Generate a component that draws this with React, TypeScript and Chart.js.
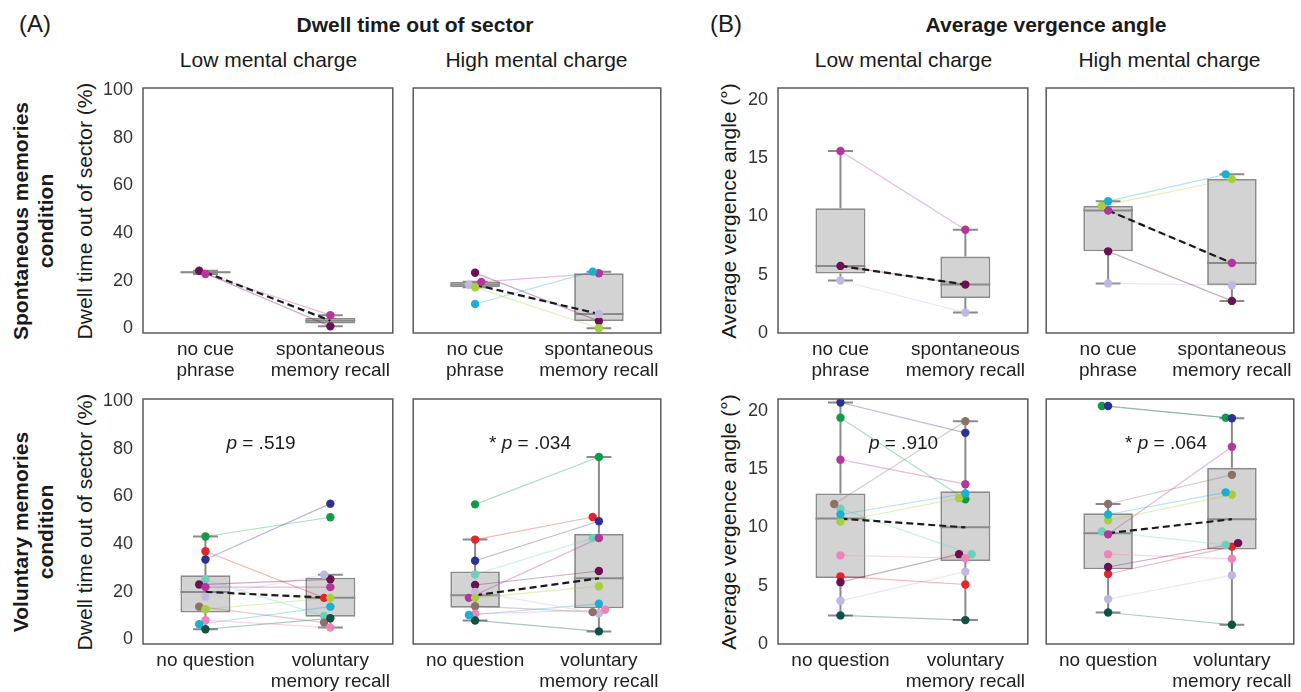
import React, { useEffect, useRef } from "react";
import { Chart, registerables } from "chart.js";

Chart.register(...registerables);

const FONT = "'Liberation Sans', Arial, Helvetica, sans-serif";
Chart.defaults.font.family = FONT;

// ---------------- data ----------------
// participant order: green, red, navy, teal, maroon, magenta, lavender, brown, yellow-green, pink, cyan, dark green
const participantColors = [
  "#12994a", "#e3262b", "#2e3192", "#6fcfba", "#6b1050", "#b3369d",
  "#c2b8df", "#8d7067", "#a8cf3b", "#f084ba", "#1bb0cf", "#0e5244",
];

const dwellTicks = [0, 20, 40, 60, 80, 100];
const vergenceTicks = [0, 5, 10, 15, 20];
const dwellRange = [-2, 101];
const vergenceRange = [0, 21];

const spontaneousCategories = [["no cue", "phrase"], ["spontaneous", "memory recall"]];
const voluntaryCategories = ["no question", ["voluntary", "memory recall"]];

const N = null;

// box stats: [whisker low, q1, median, q3, whisker high]
// (A) Dwell time out of sector (%) — spontaneous, low mental charge
const dwellSpontLowCue = [N, N, N, N, 24.2, 22.8, N, N, N, N, N, N];
const dwellSpontLowRecall = [N, N, N, N, 0.8, 5.5, N, N, N, N, N, N];
const dwellSpontLowBoxCue = [22.8, 23.15, 23.5, 23.85, 24.2];
const dwellSpontLowBoxRecall = [0.8, 1.98, 3.15, 4.33, 5.5];

// (A) spontaneous, high mental charge
const dwellSpontHighCue = [N, N, N, N, 23.3, 19.5, 18.3, N, 17.2, N, 10.2, N];
const dwellSpontHighRecall = [N, N, N, N, 3.0, 23.1, 6.0, N, 0.0, N, 23.8, N];
const dwellSpontHighBoxCue = [17.2, 17.2, 18.3, 19.5, 19.5];
const dwellSpontHighBoxRecall = [0.0, 3.0, 6.0, 23.1, 23.8];

// (A) voluntary, low mental charge
const dwellVolLowNoQ = [43.2, 37.0, 33.5, 25.1, 23.0, 21.9, 17.9, 13.7, 12.6, 8.0, 6.3, 4.2];
const dwellVolLowRecall = [51.3, 17.4, 57.0, 9.8, 25.2, 21.9, 27.1, 7.0, 17.4, 4.9, 13.7, 8.8];
const dwellVolLowBoxNoQ = [4.2, 11.2, 19.9, 26.9, 43.2];
const dwellVolLowBoxRecall = [4.9, 9.5, 17.4, 25.9, 27.1];

// (A) voluntary, high mental charge
const dwellVolHighNoQ = [56.7, 41.9, 33.0, 27.2, 22.8, 17.4, 19.9, 13.9, 17.4, 10.7, 10.2, 7.9];
const dwellVolHighRecall = [76.6, 51.4, 49.6, 42.5, 28.7, 42.5, 10.9, 11.4, 22.3, 12.4, 14.9, 3.3];
const dwellVolHighBoxNoQ = [7.9, 13.2, 18.5, 28.5, 41.9];
const dwellVolHighBoxRecall = [3.3, 13.0, 25.6, 44.3, 76.6];

// (B) Average vergence angle (°) — spontaneous, low mental charge
const vergSpontLowCue = [N, N, N, N, 5.75, 15.6, 4.5, N, N, N, N, N];
const vergSpontLowRecall = [N, N, N, N, 4.15, 8.85, 1.75, N, N, N, N, N];
const vergSpontLowBoxCue = [4.5, 5.1, 5.75, 10.7, 15.6];
const vergSpontLowBoxRecall = [1.75, 3.0, 4.15, 6.55, 8.85];

// (B) spontaneous, high mental charge
const vergSpontHighCue = [N, N, N, N, 7.0, 10.5, 4.25, N, 10.9, N, 11.3, N];
const vergSpontHighRecall = [N, N, N, N, 2.75, 6.0, 4.1, N, 13.2, N, 13.6, N];
const vergSpontHighBoxCue = [4.25, 7.0, 10.5, 10.9, 11.3];
const vergSpontHighBoxRecall = [2.75, 4.1, 6.0, 13.2, 13.6];

// (B) voluntary, low mental charge
const vergVolLowNoQ = [19.4, 5.8, 20.7, 11.6, 5.3, 15.8, 3.7, 12.0, 10.5, 7.6, 11.1, 2.45];
const vergVolLowRecall = [12.4, 5.1, 18.1, 7.7, 7.7, 13.7, 6.2, 19.1, 12.5, 7.35, 12.9, 2.05];
const vergVolLowBoxNoQ = [2.45, 5.65, 10.75, 12.9, 20.7];
const vergVolLowBoxRecall = [2.05, 7.1, 10.0, 13.1, 19.1];

// (B) voluntary, high mental charge
const vergVolHighNoQ = [20.4, 6.0, 20.4, 9.65, 6.6, 9.4, 3.85, 12.0, 10.6, 7.7, 11.1, 2.7];
const vergVolHighRecall = [19.4, 8.35, 19.35, 8.5, 8.65, 16.9, 5.9, 14.5, 12.8, 7.3, 13.0, 1.65];
const vergVolHighBoxNoQ = [2.7, 6.4, 9.5, 11.2, 12.0];
const vergVolHighBoxRecall = [1.65, 8.1, 10.7, 15.1, 19.35];

const pValues = ["p = .519", "* p = .034", "p = .910", "* p = .064"];

// ---------------- layout ----------------
type Val = number | null;
type PanelSpec = {
  rect: [number, number, number, number]; // plot area left, top, right, bottom
  range: number[];
  ticks: number[];
  showTicks: boolean;
  categories: (string | string[])[];
  first: Val[];
  second: Val[];
  boxFirst: number[];
  boxSecond: number[];
};

const COL_A1: [number, number] = [143, 394];
const COL_A2: [number, number] = [411, 662];
const COL_B1: [number, number] = [778, 1029];
const COL_B2: [number, number] = [1044, 1295];
const ROW1: [number, number] = [88, 333];
const ROW2: [number, number] = [399, 644];

const r = (c: [number, number], w: [number, number]): [number, number, number, number] => [c[0], w[0], c[1], w[1]];

const panels: PanelSpec[] = [
  { rect: r(COL_A1, ROW1), range: dwellRange, ticks: dwellTicks, showTicks: true, categories: spontaneousCategories, first: dwellSpontLowCue, second: dwellSpontLowRecall, boxFirst: dwellSpontLowBoxCue, boxSecond: dwellSpontLowBoxRecall },
  { rect: r(COL_A2, ROW1), range: dwellRange, ticks: dwellTicks, showTicks: false, categories: spontaneousCategories, first: dwellSpontHighCue, second: dwellSpontHighRecall, boxFirst: dwellSpontHighBoxCue, boxSecond: dwellSpontHighBoxRecall },
  { rect: r(COL_A1, ROW2), range: dwellRange, ticks: dwellTicks, showTicks: true, categories: voluntaryCategories, first: dwellVolLowNoQ, second: dwellVolLowRecall, boxFirst: dwellVolLowBoxNoQ, boxSecond: dwellVolLowBoxRecall },
  { rect: r(COL_A2, ROW2), range: dwellRange, ticks: dwellTicks, showTicks: false, categories: voluntaryCategories, first: dwellVolHighNoQ, second: dwellVolHighRecall, boxFirst: dwellVolHighBoxNoQ, boxSecond: dwellVolHighBoxRecall },
  { rect: r(COL_B1, ROW1), range: vergenceRange, ticks: vergenceTicks, showTicks: true, categories: spontaneousCategories, first: vergSpontLowCue, second: vergSpontLowRecall, boxFirst: vergSpontLowBoxCue, boxSecond: vergSpontLowBoxRecall },
  { rect: r(COL_B2, ROW1), range: vergenceRange, ticks: vergenceTicks, showTicks: false, categories: spontaneousCategories, first: vergSpontHighCue, second: vergSpontHighRecall, boxFirst: vergSpontHighBoxCue, boxSecond: vergSpontHighBoxRecall },
  { rect: r(COL_B1, ROW2), range: vergenceRange, ticks: vergenceTicks, showTicks: true, categories: voluntaryCategories, first: vergVolLowNoQ, second: vergVolLowRecall, boxFirst: vergVolLowBoxNoQ, boxSecond: vergVolLowBoxRecall },
  { rect: r(COL_B2, ROW2), range: vergenceRange, ticks: vergenceTicks, showTicks: false, categories: voluntaryCategories, first: vergVolHighNoQ, second: vergVolHighRecall, boxFirst: vergVolHighBoxNoQ, boxSecond: vergVolHighBoxRecall },
];

const BOX_GRAY = "#8a8a8a";
const CAP = 0.1;
const HALF_BOX = 0.2;

function hexToRgba(hex: string, a: number) {
  const n = parseInt(hex.slice(1), 16);
  return `rgba(${(n >> 16) & 255},${(n >> 8) & 255},${n & 255},${a})`;
}

// simple swarm: move overlapping points sideways (in data units)
function swarmOffsets(vals: Val[], pxPerUnit: number, step: number): number[] {
  const idx = vals.map((_, i) => i).filter((i) => vals[i] != null);
  idx.sort((a, b) => ((vals[a] as number) - (vals[b] as number)) || b - a);
  const placed: { slot: number; y: number }[] = [];
  const out = vals.map(() => 0);
  for (const i of idx) {
    const y = (vals[i] as number) * pxPerUnit;
    for (const slot of [0, -1, 1, -2, 2]) {
      if (!placed.some((p) => p.slot === slot && Math.abs(p.y - y) < 5.5)) {
        placed.push({ slot, y });
        out[i] = slot * step;
        break;
      }
    }
  }
  return out;
}

const framePlugin = {
  id: "frame",
  afterDraw(chart: any) {
    const { ctx, chartArea: a } = chart;
    ctx.save();
    ctx.strokeStyle = "#5a5a5a";
    ctx.lineWidth = 1.5;
    ctx.strokeRect(a.left, a.top, a.right - a.left, a.bottom - a.top);
    ctx.restore();
  },
};

const PT = 14;
const PR = 3;
const XH = 60;

function BoxPanel({ spec }: { spec: PanelSpec }) {
  const ref = useRef<HTMLCanvasElement>(null);
  const [L, T, R, B] = spec.rect;
  const yw = spec.showTicks ? 60 : 2;

  useEffect(() => {
    const plotW = R - L;
    const plotH = B - T;
    const pxPerUnit = plotH / (spec.range[1] - spec.range[0]);
    const step = 6.3 / (plotW / 2);
    const off1 = swarmOffsets(spec.first, pxPerUnit, step);
    const off2 = swarmOffsets(spec.second, pxPerUnit, step);
    const boxes = [spec.boxFirst, spec.boxSecond];

    const pointData: any[] = [];
    const pointColors: string[] = [];
    const lineSets: any[] = [];
    participantColors.forEach((c, i) => {
      const a = spec.first[i];
      const b = spec.second[i];
      if (a == null || b == null) return;
      const p1 = { x: 0 + off1[i], y: a };
      const p2 = { x: 1 + off2[i], y: b };
      lineSets.push({
        type: "line",
        data: [p1, p2],
        borderColor: hexToRgba(c, 0.34),
        borderWidth: 1.2,
        pointRadius: 0,
        fill: false,
      });
      pointData.push(p1, p2);
      pointColors.push(c, c);
    });

    const whisker: any[] = [];
    const medians: any[] = [];
    boxes.forEach((s, i) => {
      const [lo, q1, med, q3, hi] = s;
      whisker.push(
        { x: i, y: lo }, { x: i, y: q1 }, { x: i, y: null },
        { x: i, y: q3 }, { x: i, y: hi }, { x: i, y: null },
        { x: i - CAP, y: lo }, { x: i + CAP, y: lo }, { x: i, y: null },
        { x: i - CAP, y: hi }, { x: i + CAP, y: hi }, { x: i, y: null }
      );
      medians.push({ x: i - HALF_BOX, y: med }, { x: i + HALF_BOX, y: med }, { x: i, y: null });
    });

    const datasets: any[] = [
      {
        type: "line",
        data: pointData,
        showLine: false,
        pointRadius: 4.2,
        pointBorderWidth: 0,
        pointBackgroundColor: pointColors,
        pointBorderColor: pointColors,
      },
      {
        type: "line",
        data: [
          { x: 0, y: spec.boxFirst[2] },
          { x: 1, y: spec.boxSecond[2] },
        ],
        borderColor: "#1b1b1b",
        borderWidth: 2.2,
        borderDash: [7, 4],
        pointRadius: 0,
      },
      ...lineSets,
      {
        type: "line",
        data: medians,
        borderColor: BOX_GRAY,
        borderWidth: 2,
        pointRadius: 0,
        spanGaps: false,
      },
      {
        type: "bar",
        data: boxes.map((s, i) => ({ x: i, y: [s[1], s[3]] })),
        backgroundColor: "#d3d3d3",
        borderColor: BOX_GRAY,
        borderWidth: 1.8,
        borderSkipped: false,
        barPercentage: 2 * HALF_BOX,
        categoryPercentage: 1,
      },
      {
        type: "line",
        data: whisker,
        borderColor: BOX_GRAY,
        borderWidth: 2,
        pointRadius: 0,
        spanGaps: false,
      },
    ];

    const chart = new Chart(ref.current as HTMLCanvasElement, {
      type: "bar",
      data: { datasets },
      options: {
        animation: false,
        responsive: true,
        maintainAspectRatio: false,
        events: [],
        layout: { padding: { top: PT, right: PR, left: 0, bottom: 0 } },
        plugins: {
          legend: { display: false },
          tooltip: { enabled: false },
          title: { display: false },
        },
        scales: {
          x: {
            type: "linear",
            min: -0.5,
            max: 1.5,
            offset: false,
            grid: { display: false, drawTicks: false, tickLength: 0 },
            border: { display: false },
            afterBuildTicks: (s: any) => {
              s.ticks = spec.categories.map((_, i) => ({ value: i }));
            },
            ticks: {
              autoSkip: false,
              maxRotation: 0,
              minRotation: 0,
              padding: 6,
              color: "#222",
              font: { family: FONT, size: 19, lineHeight: 1.1 },
              callback: (_v: any, i: number) => spec.categories[i] as any,
            },
            afterFit: (s: any) => {
              s.height = XH;
              s.paddingLeft = 0;
              s.paddingRight = 0;
            },
          },
          y: {
            type: "linear",
            min: spec.range[0],
            max: spec.range[1],
            grid: { display: false, drawTicks: false, tickLength: 0 },
            border: { display: false },
            afterBuildTicks: (s: any) => {
              s.ticks = spec.ticks.map((v) => ({ value: v }));
            },
            ticks: {
              display: spec.showTicks,
              padding: 10,
              color: "#333",
              font: { family: FONT, size: 18 },
              callback: (v: any) => String(v),
            },
            afterFit: (s: any) => {
              s.width = yw;
              s.paddingTop = 0;
              s.paddingBottom = 0;
            },
          },
        },
      } as any,
      plugins: [framePlugin],
    } as any);
    return () => chart.destroy();
  }, []);

  return (
    <div
      style={{
        position: "absolute",
        left: L - yw,
        top: T - PT,
        width: R - L + yw + PR,
        height: B - T + PT + XH,
      }}
    >
      <canvas ref={ref} />
    </div>
  );
}

function Label({
  x, y, size, bold, rotate, lineHeight, children,
}: {
  x: number; y: number; size: number; bold?: boolean; rotate?: boolean; lineHeight?: number; children: React.ReactNode;
}) {
  return (
    <div
      style={{
        position: "absolute",
        left: x,
        top: y,
        transform: `translate(-50%, -50%)${rotate ? " rotate(-90deg)" : ""}`,
        fontSize: size,
        fontWeight: bold ? 700 : 400,
        lineHeight: lineHeight ? `${lineHeight}px` : 1.15,
        whiteSpace: "nowrap",
        textAlign: "center",
        color: "#1a1a1a",
        fontFamily: FONT,
      }}
    >
      {children}
    </div>
  );
}

function PText({ x, y, text }: { x: number; y: number; text: string }) {
  const star = text.startsWith("*");
  const rest = text.replace(/^\*\s*/, "").replace(/^p/, "");
  return (
    <Label x={x} y={y} size={19}>
      {star ? "* " : ""}
      <i>p</i>
      {rest}
    </Label>
  );
}

export default function App() {
  const midA = (COL_A1[0] + COL_A1[1]) / 2;
  const midA2 = (COL_A2[0] + COL_A2[1]) / 2;
  const midB = (COL_B1[0] + COL_B1[1]) / 2;
  const midB2 = (COL_B2[0] + COL_B2[1]) / 2;
  const row1Mid = (ROW1[0] + ROW1[1]) / 2;
  const row2Mid = (ROW2[0] + ROW2[1]) / 2;
  return (
    <div
      style={{
        position: "absolute",
        left: 0,
        top: 0,
        width: 1301,
        height: 692,
        background: "#fff",
        fontFamily: FONT,
        overflow: "hidden",
      }}
    >
      <Label x={35} y={24} size={24}>(A)</Label>
      <Label x={726} y={24} size={24}>(B)</Label>
      <Label x={415} y={25} size={21} bold>Dwell time out of sector</Label>
      <Label x={1046} y={25} size={21} bold>Average vergence angle</Label>
      <Label x={midA} y={59.5} size={21}>Low mental charge</Label>
      <Label x={midA2} y={59.5} size={21}>High mental charge</Label>
      <Label x={midB} y={59.5} size={21}>Low mental charge</Label>
      <Label x={midB2} y={59.5} size={21}>High mental charge</Label>

      <Label x={33} y={row1Mid + 10} size={21} bold rotate lineHeight={25}>
        Spontaneous memories<br />condition
      </Label>
      <Label x={33} y={row2Mid + 10} size={21} bold rotate lineHeight={25}>
        Voluntary memories<br />condition
      </Label>

      <Label x={85} y={row1Mid} size={21} rotate>Dwell time out of sector (%)</Label>
      <Label x={85} y={row2Mid} size={21} rotate>Dwell time out of sector (%)</Label>
      <Label x={728.5} y={row1Mid} size={21} rotate>Average vergence angle (°)</Label>
      <Label x={728.5} y={row2Mid} size={21} rotate>Average vergence angle (°)</Label>

      {panels.map((p, i) => (
        <BoxPanel key={i} spec={p} />
      ))}

      <PText x={261} y={443} text={pValues[0]} />
      <PText x={530} y={443} text={pValues[1]} />
      <PText x={903.5} y={443} text={pValues[2]} />
      <PText x={1166} y={443} text={pValues[3]} />
    </div>
  );
}
